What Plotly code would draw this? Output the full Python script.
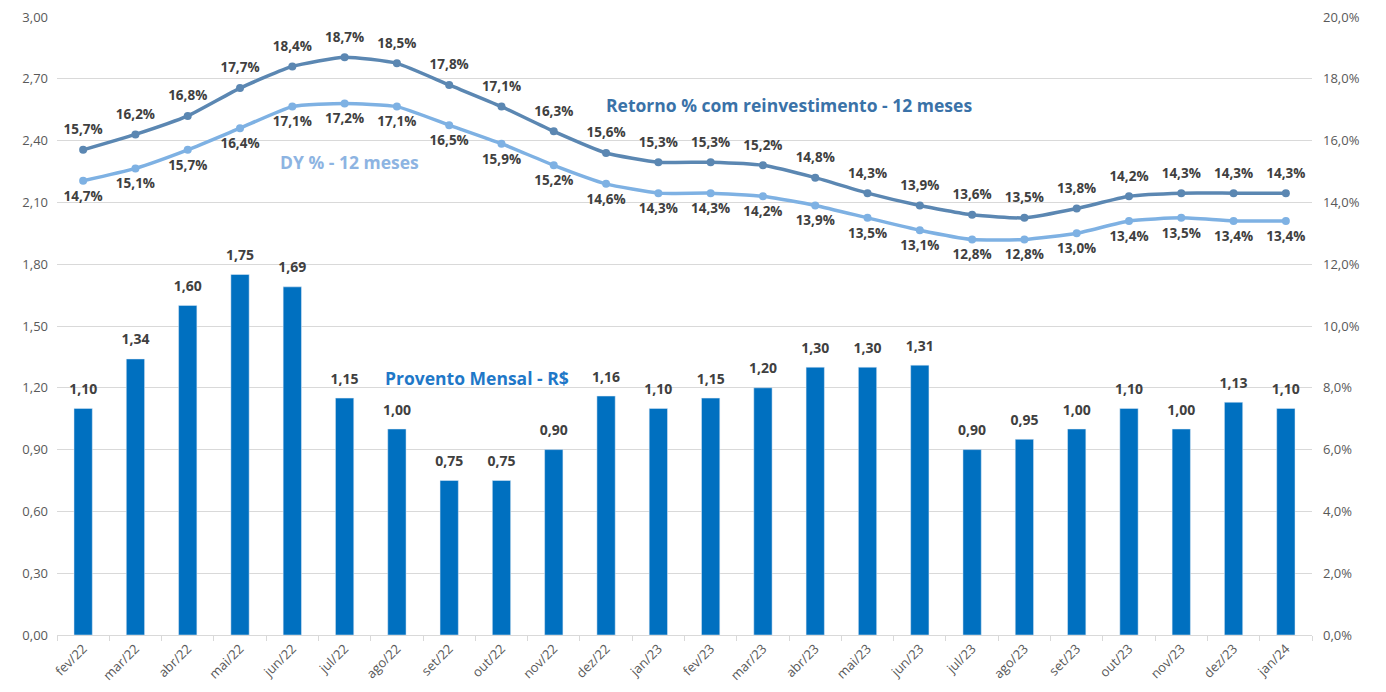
import plotly.graph_objects as go

months = ["fev/22", "mar/22", "abr/22", "mai/22", "jun/22", "jul/22", "ago/22", "set/22",
          "out/22", "nov/22", "dez/22", "jan/23", "fev/23", "mar/23", "abr/23", "mai/23",
          "jun/23", "jul/23", "ago/23", "set/23", "out/23", "nov/23", "dez/23", "jan/24"]
provento = [1.10, 1.34, 1.60, 1.75, 1.69, 1.15, 1.00, 0.75, 0.75, 0.90, 1.16, 1.10,
            1.15, 1.20, 1.30, 1.30, 1.31, 0.90, 0.95, 1.00, 1.10, 1.00, 1.13, 1.10]
retorno = [15.7, 16.2, 16.8, 17.7, 18.4, 18.7, 18.5, 17.8, 17.1, 16.3, 15.6, 15.3,
           15.3, 15.2, 14.8, 14.3, 13.9, 13.6, 13.5, 13.8, 14.2, 14.3, 14.3, 14.3]
dy = [14.7, 15.1, 15.7, 16.4, 17.1, 17.2, 17.1, 16.5, 15.9, 15.2, 14.6, 14.3,
      14.3, 14.2, 13.9, 13.5, 13.1, 12.8, 12.8, 13.0, 13.4, 13.5, 13.4, 13.4]

FONT = "Open Sans"
LABEL_COLOR = "#404040"
TICK_COLOR = "#595959"
GRID = "#D9D9D9"
CLEAR = "rgba(0,0,0,0)"
label_font = dict(family=FONT, size=13.5, color=LABEL_COLOR, weight="bold")

ret_frac = [v / 100 for v in retorno]
dy_frac = [v / 100 for v in dy]

fig = go.Figure()
fig.add_trace(go.Bar(
    x=months, y=provento, name="Provento Mensal - R$",
    marker=dict(color="#0070C0"), width=0.35, hoverinfo="y",
    cliponaxis=False, yaxis="y",
))
# bar value labels (transparent markers give the label offset)
fig.add_trace(go.Scatter(
    x=months, y=provento, mode="markers+text", marker=dict(size=16, color=CLEAR),
    texttemplate="%{y:.2f}", textposition="top center", textfont=dict(label_font, size=14),
    cliponaxis=False, yaxis="y", hoverinfo="skip", showlegend=False,
))
fig.add_trace(go.Scatter(
    x=months, y=ret_frac, name="Retorno % com reinvestimento - 12 meses",
    mode="lines+markers", line=dict(color="#5B87B2", width=3.5, shape="spline", smoothing=0.5),
    marker=dict(size=8, color="#5B87B2"), cliponaxis=False, yaxis="y2",
))
fig.add_trace(go.Scatter(
    x=months, y=ret_frac, mode="markers+text", marker=dict(size=18, color=CLEAR),
    texttemplate="%{y:.1%}", textposition="top center", textfont=label_font,
    cliponaxis=False, yaxis="y2", hoverinfo="skip", showlegend=False,
))
fig.add_trace(go.Scatter(
    x=months, y=dy_frac, name="DY % - 12 meses",
    mode="lines+markers", line=dict(color="#7EB1E3", width=3.5, shape="spline", smoothing=0.5),
    marker=dict(size=8, color="#7EB1E3"), cliponaxis=False, yaxis="y2",
))
fig.add_trace(go.Scatter(
    x=months, y=dy_frac, mode="markers+text", marker=dict(size=14, color=CLEAR),
    texttemplate="%{y:.1%}", textposition="bottom center", textfont=label_font,
    cliponaxis=False, yaxis="y2", hoverinfo="skip", showlegend=False,
))

annots = [
    dict(x=13.5, y=2.575, text="Retorno % com reinvestimento - 12 meses", color="#3A72A8", size=17.5),
    dict(x=5.1, y=2.296, text="DY % - 12 meses", color="#8DB4E2", size=17.5),
    dict(x=7.53, y=1.248, text="Provento Mensal - R$", color="#1F78C8", size=17.5),
]
for a in annots:
    fig.add_annotation(x=a["x"], y=a["y"], xref="x", yref="y", text=a["text"], showarrow=False,
                       font=dict(family=FONT, size=a["size"], color=a["color"], weight="bold"))

fig.update_layout(
    width=1386, height=692,
    margin=dict(l=49, r=82, t=9, b=65, autoexpand=False),
    paper_bgcolor="white", plot_bgcolor="white",
    separators=",.",
    showlegend=False,
    font=dict(family=FONT, color=TICK_COLOR),
    bargap=0.65,
    xaxis=dict(
        type="category", range=[-0.5, len(months) - 0.5], tickangle=-45,
        tickfont=dict(size=13, color=TICK_COLOR), ticklabeloverflow="allow",
        showgrid=False, showline=True, linecolor=GRID, linewidth=1, automargin=False,
        ticks="outside", tickson="boundaries", ticklen=5, tickcolor=GRID,
    ),
    yaxis=dict(
        range=[0, 3.0], dtick=0.3, tickformat=".2f", showgrid=True, gridcolor=GRID,
        zeroline=False, tickfont=dict(size=13, color=TICK_COLOR), ticks="", ticklabelstandoff=8,
        automargin=False, ticklabeloverflow="allow",
    ),
    yaxis2=dict(
        range=[0, 0.2], dtick=0.02, tickformat=".1%", overlaying="y", side="right",
        showgrid=False, zeroline=False, tickfont=dict(size=13, color=TICK_COLOR), ticks="",
        ticklabelstandoff=10, automargin=False, ticklabeloverflow="allow",
    ),
)

fig.write_html("out.html")
